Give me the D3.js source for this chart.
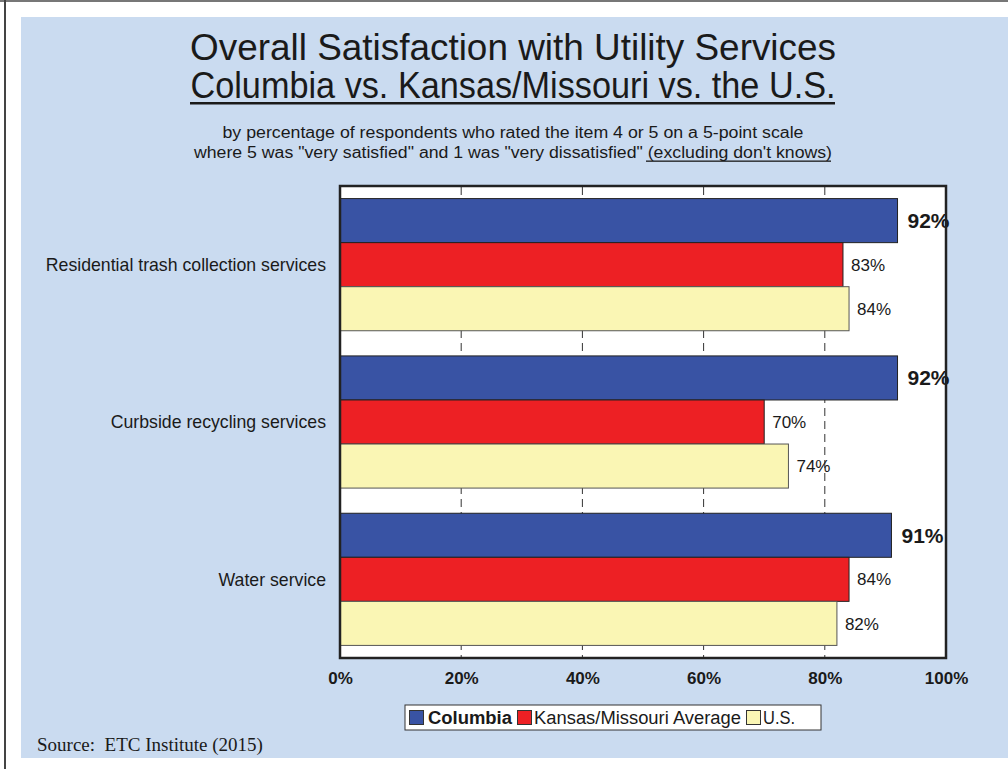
<!DOCTYPE html>
<html>
<head>
<meta charset="utf-8">
<script src="https://cdn.jsdelivr.net/npm/d3@7"></script>
<style>
  html, body { margin: 0; padding: 0; background: #ffffff; }
  svg { display: block; }
  text { font-family: "Liberation Sans", Arial, Helvetica, sans-serif; fill: #1a1a1a; }
</style>
</head>
<body>
<svg id="chart" width="1008" height="769"></svg>
<script>
// ---- Data ----
const categories = ["Residential trash collection services", "Curbside recycling services", "Water service"];
const seriesNames = ["Columbia", "Kansas/Missouri Average", "U.S."];
const columbia = [92, 92, 91];
const kansasMissouri = [83, 70, 84];
const us = [84, 74, 82];
const xTicks = [0, 20, 40, 60, 80, 100];
const gridValues = [20, 40, 60, 80];

const seriesValues = [columbia, kansasMissouri, us];
const colors = ["#3953a4", "#ed2024", "#faf6b4"];
const strokes = ["#222", "#222", "#555"];

const svg = d3.select("#chart");

// page frame
svg.append("rect").attr("x", 0).attr("y", 0).attr("width", 1008).attr("height", 769).attr("fill", "#fff");
svg.append("line").attr("x1", 0).attr("x2", 1008).attr("y1", 1).attr("y2", 1).attr("stroke", "#777").attr("stroke-width", 2);
svg.append("line").attr("x1", 5).attr("x2", 5).attr("y1", 0).attr("y2", 769).attr("stroke", "#444").attr("stroke-width", 2);
svg.append("rect").attr("x", 21).attr("y", 17).attr("width", 1008 - 21).attr("height", 741).attr("fill", "#cadbf0");

// titles
const cx = 513;
svg.append("text").attr("x", cx).attr("y", 60).attr("text-anchor", "middle")
  .attr("font-size", 36).attr("textLength", 646).attr("lengthAdjust", "spacingAndGlyphs")
  .text("Overall Satisfaction with Utility Services");
svg.append("text").attr("x", cx).attr("y", 98).attr("text-anchor", "middle")
  .attr("font-size", 36).attr("textLength", 645).attr("lengthAdjust", "spacingAndGlyphs")
  .text("Columbia vs. Kansas/Missouri vs. the U.S.");
svg.append("rect").attr("x", 190).attr("y", 102).attr("width", 645).attr("height", 2.5).attr("fill", "#1a1a1a");

svg.append("text").attr("x", cx).attr("y", 138).attr("text-anchor", "middle")
  .attr("font-size", 16).attr("textLength", 581).attr("lengthAdjust", "spacingAndGlyphs")
  .text("by percentage of respondents who rated the item 4 or 5 on a 5-point scale");
const sub2 = svg.append("text").attr("x", cx).attr("y", 158).attr("text-anchor", "middle")
  .attr("font-size", 16).attr("textLength", 638).attr("lengthAdjust", "spacingAndGlyphs");
sub2.append("tspan").text("where 5 was \"very satisfied\" and 1 was \"very dissatisfied\" ");
sub2.append("tspan").text("(excluding don't knows)");
svg.append("rect").attr("x", 646).attr("y", 160.5).attr("width", 185).attr("height", 1.3).attr("fill", "#1a1a1a");

// scales
const x = d3.scaleLinear().domain([0, 100]).range([340, 946]);
const y0 = d3.scaleBand().domain(categories).range([186, 658]).paddingInner(0.16).paddingOuter(0.08);
const y1 = d3.scaleBand().domain(seriesNames).range([0, y0.bandwidth()]);

// plot background
svg.append("rect").attr("x", x(0)).attr("y", 186).attr("width", x(100) - x(0)).attr("height", 472).attr("fill", "#fff");

// dashed gridlines
svg.append("g").selectAll("line").data(gridValues).join("line")
  .attr("x1", d => x(d)).attr("x2", d => x(d))
  .attr("y1", 187).attr("y2", 657)
  .attr("stroke", "#333").attr("stroke-width", 1).attr("stroke-dasharray", "8,5");

// bars
const groups = svg.append("g").selectAll("g").data(categories).join("g")
  .attr("transform", c => `translate(0,${y0(c)})`);

groups.selectAll("rect").data((c, i) => seriesNames.map((s, j) => ({ s, j, v: seriesValues[j][i] })))
  .join("rect")
  .attr("x", x(0))
  .attr("y", d => y1(d.s))
  .attr("width", d => x(d.v) - x(0))
  .attr("height", y1.bandwidth())
  .attr("fill", d => colors[d.j])
  .attr("stroke", d => strokes[d.j]).attr("stroke-width", 1);

// plot border
svg.append("rect").attr("x", x(0)).attr("y", 186).attr("width", x(100) - x(0)).attr("height", 472)
  .attr("fill", "none").attr("stroke", "#222").attr("stroke-width", 2.5);

// value labels
groups.selectAll("text.val").data((c, i) => seriesNames.map((s, j) => ({ s, j, v: seriesValues[j][i] })))
  .join("text").attr("class", "val")
  .attr("x", d => x(d.v) + (d.j === 0 ? 10 : 8))
  .attr("y", d => y1(d.s) + y1.bandwidth() / 2)
  .attr("dy", "0.36em")
  .attr("font-size", d => d.j === 0 ? 21 : 17)
  .attr("font-weight", d => d.j === 0 ? "bold" : "normal")
  .text(d => d.v + "%");

// category labels
svg.append("g").selectAll("text").data(categories).join("text")
  .attr("x", 326).attr("y", c => y0(c) + y0.bandwidth() / 2)
  .attr("dy", "0.36em").attr("text-anchor", "end").attr("font-size", 17.7)
  .text(c => c);

// x axis
const xAxis = svg.append("g").attr("transform", "translate(0,658)")
  .call(d3.axisBottom(x).tickValues(xTicks).tickSize(0).tickPadding(14).tickFormat(d => d + "%"));
xAxis.select(".domain").remove();
xAxis.selectAll("text").attr("font-size", 17).attr("font-weight", "bold")
  .attr("fill", "#1a1a1a").style("font-family", "'Liberation Sans', Arial, sans-serif");

// legend
const lg = svg.append("g");
lg.append("rect").attr("x", 405).attr("y", 705).attr("width", 416).attr("height", 25)
  .attr("fill", "#fff").attr("stroke", "#333").attr("stroke-width", 1);
const legendItems = [
  { name: seriesNames[0], sx: 409.5, tx: 428, bold: true, w: 84 },
  { name: seriesNames[1], sx: 517.5, tx: 534, bold: false, w: 207 },
  { name: seriesNames[2], sx: 746.5, tx: 763, bold: false, w: 32 }
];
legendItems.forEach((it, j) => {
  lg.append("rect").attr("x", it.sx).attr("y", 710.5).attr("width", 14).attr("height", 14)
    .attr("fill", colors[j]).attr("stroke", "#333").attr("stroke-width", 1);
  lg.append("text").attr("x", it.tx).attr("y", 724).attr("font-size", 18)
    .attr("textLength", it.w).attr("lengthAdjust", "spacingAndGlyphs")
    .attr("font-weight", it.bold ? "bold" : "normal").text(it.name);
});

// source
svg.append("text").attr("x", 37).attr("y", 751).attr("font-size", 19)
  .style("font-family", "'Liberation Serif', 'Times New Roman', serif")
  .attr("xml:space", "preserve").text("Source:  ETC Institute (2015)");
</script>
</body>
</html>
